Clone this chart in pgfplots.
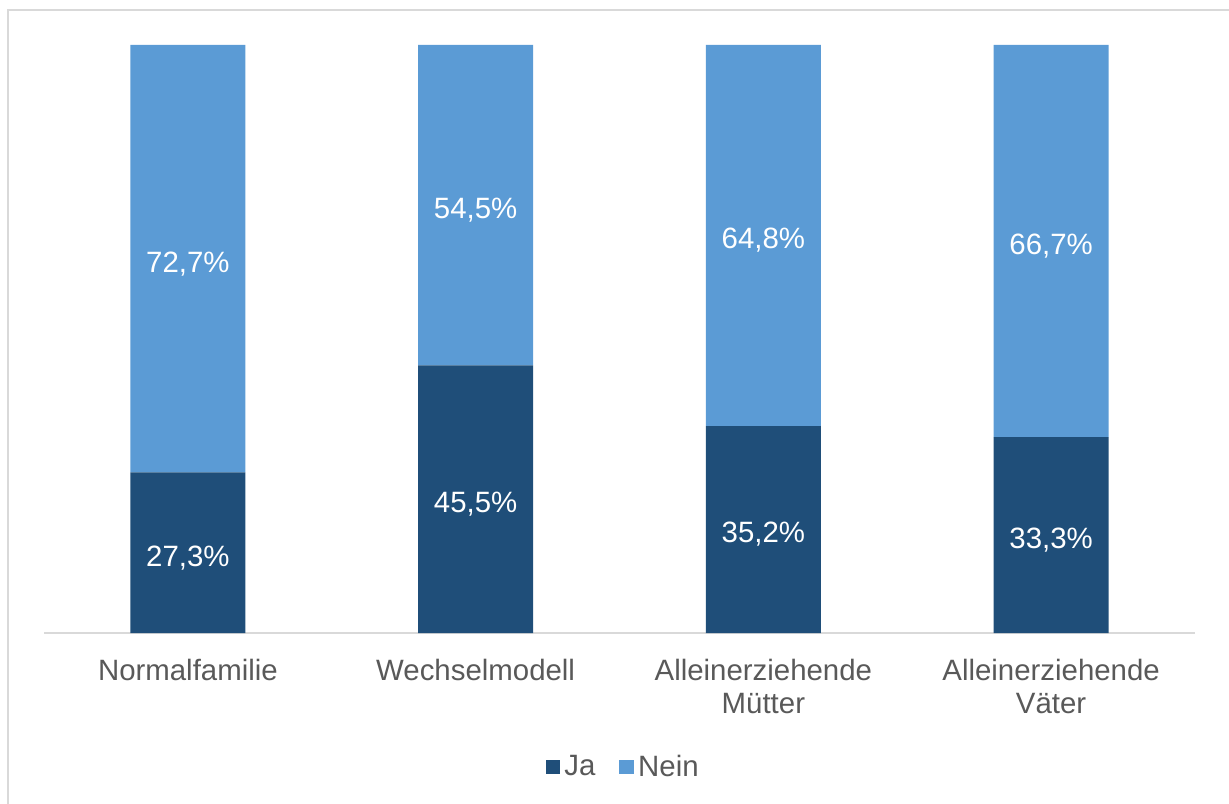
\documentclass[border=0pt]{standalone}
\usepackage{fontspec}
\setmainfont{Liberation Sans}
\usepackage{pgfplots}
\pgfplotsset{compat=1.18}
\definecolor{jaC}{HTML}{1F4E79}
\definecolor{neinC}{HTML}{5B9BD5}
\definecolor{txtC}{HTML}{595959}
\definecolor{lineC}{HTML}{D9D9D9}
\newcommand{\lblfont}{\fontsize{14.7}{16.5}\selectfont}
\begin{document}
\begin{tikzpicture}
\useasboundingbox (0,0) rectangle (614.5pt,401.5pt);
\begin{scope}
\clip (0,0) rectangle (614.5pt,401.5pt);
\draw[lineC, line width=1pt] (4pt,-5pt) -- (4pt,396.5pt) -- (620pt,396.5pt);
\end{scope}
\begin{axis}[
  at={(22pt,85pt)}, anchor=south west,
  scale only axis, width=575.5pt, height=294pt,
  ybar stacked, bar width=57.5pt,
  xmin=-0.5, xmax=3.5, ymin=0, ymax=100,
  axis x line*=bottom, axis y line=none,
  x axis line style={lineC, line width=1pt},
  xtick=data,
  xticklabels={Normalfamilie, Wechselmodell, {Alleinerziehende\\Mütter}, {Alleinerziehende\\Väter}},
  xticklabel style={font=\lblfont, text=txtC, align=center, yshift=-9.5pt},
  major tick length=0pt,
  ytick=\empty,
  legend style={at={(0.504,-0.228)}, anchor=center, draw=none, legend columns=-1,
    font=\lblfont, text=txtC, /tikz/every even column/.append style={column sep=10pt}},
  legend image code/.code={\fill[#1] (0pt,-3.7pt) rectangle (7.4pt,3.7pt);},
]
\addplot[fill=jaC, draw=none] coordinates {(0,27.3) (1,45.5) (2,35.2) (3,33.3)};
\addplot[fill=neinC, draw=none] coordinates {(0,72.7) (1,54.5) (2,64.8) (3,66.7)};
\legend{Ja, Nein}
\end{axis}
\begin{axis}[
  at={(22pt,85pt)}, anchor=south west,
  scale only axis, width=575.5pt, height=294pt,
  xmin=-0.5, xmax=3.5, ymin=0, ymax=100,
  hide axis,
]
\addplot[draw=none, mark=none, nodes near coords, point meta=explicit symbolic,
  every node near coord/.style={anchor=center, font=\lblfont, text=white, yshift=-2.5pt}]
  coordinates {(0,13.65) [27,3\%] (1,22.75) [45,5\%] (2,17.6) [35,2\%] (3,16.65) [33,3\%]
               (0,63.65) [72,7\%] (1,72.75) [54,5\%] (2,67.6) [64,8\%] (3,66.65) [66,7\%]};
\end{axis}
\end{tikzpicture}
\end{document}
